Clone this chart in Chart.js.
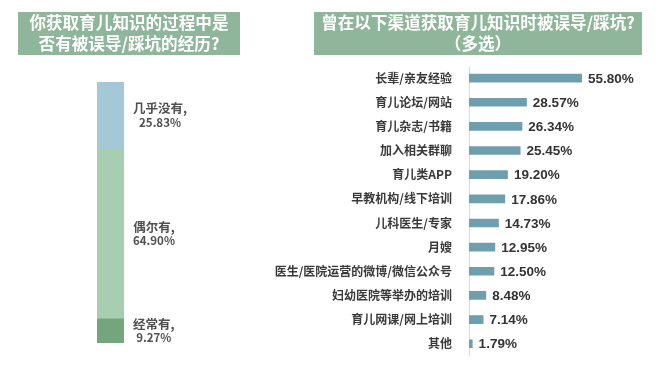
<!DOCTYPE html>
<html>
<head>
<meta charset="utf-8">
<script src="https://cdn.jsdelivr.net/npm/chart.js@4"></script>
<style>
    body { margin: 0; background: #fff; width: 660px; height: 372px; position: relative; overflow: hidden; }
    .title {
        position: absolute;
        background: #8fb69b;
        color: #fff;
        font: bold 16.6px 'Noto Sans CJK SC', sans-serif;
        line-height: 21px;
        text-align: center;
        box-sizing: border-box;
        padding-top: 0px;
    }
    #leftBox { position: absolute; left: 0; top: 0; width: 270px; height: 372px; }
    #rightBox { position: absolute; left: 270px; top: 0; width: 390px; height: 372px; }
</style>
</head>
<body>
<div id="leftBox"><canvas id="stackChart" width="270" height="372"></canvas></div>
<div id="rightBox"><canvas id="barChart" width="390" height="372"></canvas></div>
<div class="title" style="left:18px; top:12px; width:222px; height:43px;">你获取育儿知识的过程中是<br>否有被误导/踩坑的经历?</div>
<div class="title" style="left:314px; top:12px; width:328px; height:43px;">曾在以下渠道获取育儿知识时被误导/踩坑?<br>（多选）</div>
<script>
// left chart: share of people misled (stacked, bottom to top)
const stackLabels = ['经常有,', '偶尔有,', '几乎没有,'];
const stackValues = [9.27, 64.90, 25.83];
const stackColors = ['#73a67c', '#a9cdb1', '#a4c8d6'];

// right chart: channels (multiple choice)
const channels = [
    '长辈/亲友经验',
    '育儿论坛/网站',
    '育儿杂志/书籍',
    '加入相关群聊',
    '育儿类APP',
    '早教机构/线下培训',
    '儿科医生/专家',
    '月嫂',
    '医生/医院运营的微博/微信公众号',
    '妇幼医院等举办的培训',
    '育儿网课/网上培训',
    '其他'
];
const channelValues = [55.80, 28.57, 26.34, 25.45, 19.20, 17.86, 14.73, 12.95, 12.50, 8.48, 7.14, 1.79];

Chart.defaults.animation = false;

// labels to the right of each stacked segment
const segmentLabels = {
    id: 'segmentLabels',
    afterDatasetsDraw(chart) {
        const ctx = chart.ctx;
        ctx.save();
        ctx.fillStyle = '#505050';
        ctx.textAlign = 'center';
        ctx.textBaseline = 'middle';
        chart.data.datasets.forEach((ds, i) => {
            const bar = chart.getDatasetMeta(i).data[0];
            const mid = (bar.y + bar.base) / 2;
            const left = bar.x + bar.width / 2 + 9;
            ctx.font = 'bold 12.5px "Noto Sans CJK SC"';
            const w1 = ctx.measureText(ds.label).width;
            ctx.font = 'bold 11.5px "Noto Sans CJK SC"';
            const line2 = ds.data[0].toFixed(2) + '%';
            const w2 = ctx.measureText(line2).width;
            const cx = left + Math.max(w1, w2) / 2;
            ctx.font = 'bold 12.5px "Noto Sans CJK SC"';
            ctx.fillText(ds.label, cx, mid - 7);
            ctx.font = 'bold 11.5px "Noto Sans CJK SC"';
            ctx.fillText(line2, cx, mid + 7);
        });
        ctx.restore();
    }
};

let stackChart = new Chart(document.getElementById('stackChart'), {
    type: 'bar',
    data: {
        labels: [''],
        datasets: stackLabels.map((label, i) => ({
            label: label,
            data: [stackValues[i]],
            backgroundColor: stackColors[i],
            barPercentage: 1,
            categoryPercentage: 1
        }))
    },
    options: {
        responsive: false,
        layout: { padding: { left: 97, right: 146, top: 82, bottom: 29 } },
        scales: {
            x: { stacked: true, display: false },
            y: { stacked: true, display: false, min: 0, max: 100 }
        },
        plugins: {
            legend: { display: false },
            tooltip: { enabled: false }
        }
    },
    plugins: [segmentLabels]
});

// value labels at the end of each bar
const valueLabels = {
    id: 'valueLabels',
    afterDatasetsDraw(chart) {
        const ctx = chart.ctx;
        const meta = chart.getDatasetMeta(0);
        ctx.save();
        ctx.fillStyle = '#333333';
        ctx.font = 'bold 13.5px "Liberation Sans"';
        ctx.textAlign = 'left';
        ctx.textBaseline = 'middle';
        meta.data.forEach((bar, i) => {
            ctx.fillText(channelValues[i].toFixed(2) + '%', bar.x + 6, bar.y + 1);
        });
        ctx.restore();
    }
};

let barChart = new Chart(document.getElementById('barChart'), {
    type: 'bar',
    data: {
        labels: channels,
        datasets: [
            {
                data: channelValues,
                backgroundColor: '#6f9fae',
                barPercentage: 0.36,
                categoryPercentage: 1
            }
        ]
    },
    options: {
        indexAxis: 'y',
        responsive: false,
        layout: { padding: { left: 0, right: 29, top: 66, bottom: 10 } },
        scales: {
            x: { display: false, min: 0, max: 80 },
            y: {
                afterFit(scale) { scale.width = 199; },
                grid: { display: false },
                border: { display: true, color: '#dcdcdc', width: 1 },
                ticks: {
                    autoSkip: false,
                    padding: 9,
                    color: '#3a3a3a',
                    font: { family: '"Noto Sans CJK SC"', size: 12, weight: 'bold' }
                }
            }
        },
        plugins: {
            legend: { display: false },
            tooltip: { enabled: false }
        }
    },
    plugins: [valueLabels]
});
</script>
</body>
</html>
